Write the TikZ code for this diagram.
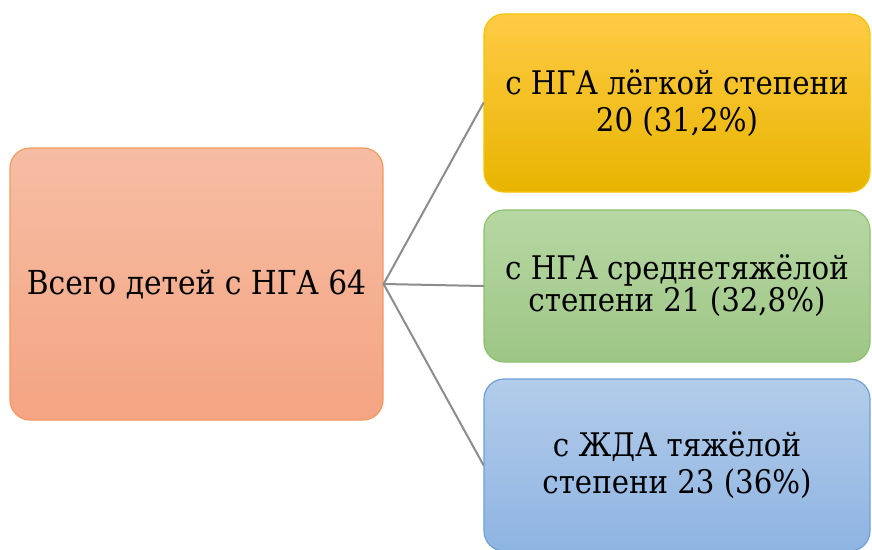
\documentclass[tikz,border=0pt]{standalone}
\usepackage{fontspec}
\setmainfont{DejaVu Serif Condensed}
\usepackage{xcolor}
\usepackage{tikz}
\definecolor{linkc}{HTML}{8C8C8C}
\definecolor{redtop}{HTML}{F6BDA4}
\definecolor{redbot}{HTML}{F4A482}
\definecolor{redline}{HTML}{F39A5E}
\definecolor{yeltop}{HTML}{FFCB45}
\definecolor{yelmid}{HTML}{FFC300}
\definecolor{yelbot}{HTML}{E8B400}
\definecolor{yelline}{HTML}{F5C200}
\definecolor{grntop}{HTML}{B7D7A3}
\definecolor{grnbot}{HTML}{9DC685}
\definecolor{grnline}{HTML}{8DC06C}
\definecolor{blutop}{HTML}{B3CCEA}
\definecolor{blubot}{HTML}{8EB4E2}
\definecolor{bluline}{HTML}{6E9FD6}
\tikzset{
  box/.style={rectangle, rounded corners=20pt, line width=1.2pt, align=center, inner sep=0pt},
  link/.style={draw=linkc, line width=2pt, line cap=round},
  big/.style={font=\fontsize{33}{40}\selectfont},
  lab/.style={font=\fontsize{32.5}{37}\selectfont},
  labt/.style={font=\fontsize{32.5}{32}\selectfont},
}
\begin{document}
\begin{tikzpicture}[x=1pt, y=-1pt]
  \useasboundingbox (0,0) rectangle (872,549);
  \node[box, big, draw=redline, top color=redtop, bottom color=redbot,
    minimum width=373pt, minimum height=272pt] (all) at (196.5,284) {Всего детей с НГА 64};
  \node[box, lab, draw=yelline, top color=yeltop, middle color=yelmid, bottom color=yelbot,
    minimum width=386pt, minimum height=178pt] (light) at (677,103) {с НГА лёгкой степени\\20 (31,2\%)};
  \node[box, labt, draw=grnline, top color=grntop, bottom color=grnbot,
    minimum width=386pt, minimum height=152pt] (mid) at (677,286) {с НГА среднетяжёлой\\степени 21 (32,8\%)};
  \node[box, lab, draw=bluline, top color=blutop, bottom color=blubot,
    minimum width=386pt, minimum height=172pt] (heavy) at (677,465) {с ЖДА тяжёлой\\степени 23 (36\%)};
  \draw[link] (all.east) -- (light.west);
  \draw[link] (all.east) -- (mid.west);
  \draw[link] (all.east) -- (heavy.west);
\end{tikzpicture}
\end{document}
